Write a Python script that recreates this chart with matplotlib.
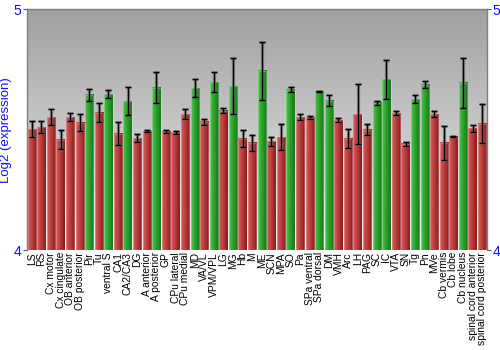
import numpy as np
import matplotlib
matplotlib.use("Agg")
import matplotlib.pyplot as plt
from matplotlib.colors import LinearSegmentedColormap

plt.rcParams['font.family'] = ['Liberation Sans', 'DejaVu Sans']

regions = ["LS", "RS", "Cx motor", "Cx cingulate", "OB anterior", "OB posterior",
           "Pir", "Tu", "ventral S", "CA1", "CA2/CA3", "DG", "A anterior",
           "A posterior", "GP", "CPu lateral", "CPu medial", "MD", "VA/VL",
           "VPM/VPL", "LG", "MG", "Hb", "M", "ME", "SCN", "MPA", "SO", "Pa",
           "SPa ventral", "SPa dorsal", "DM", "VMH", "Arc", "LH", "PAG", "SC",
           "IC", "VTA", "SN", "Tg", "Pn", "MVe", "Cb vermis", "Cb lobe",
           "Cb nucleus", "spinal cord anterior", "spinal cord posterior"]

log2_expr = [4.501, 4.510, 4.551, 4.458, 4.551, 4.529, 4.645, 4.570, 4.648,
             4.483, 4.618, 4.464, 4.494, 4.674, 4.492, 4.490, 4.565, 4.673,
             4.533, 4.697, 4.579, 4.681, 4.462, 4.446, 4.744, 4.452, 4.469,
             4.666, 4.551, 4.551, 4.659, 4.621, 4.539, 4.462, 4.565, 4.500,
             4.612, 4.709, 4.569, 4.442, 4.626, 4.687, 4.565, 4.446, 4.471,
             4.694, 4.505, 4.525]

sem = [0.033, 0.025, 0.033, 0.040, 0.017, 0.035, 0.025, 0.039, 0.016, 0.048,
       0.058, 0.017, 0.004, 0.065, 0.006, 0.006, 0.021, 0.039, 0.012, 0.041,
       0.010, 0.118, 0.035, 0.033, 0.122, 0.019, 0.055, 0.010, 0.012, 0.006,
       0.002, 0.023, 0.008, 0.040, 0.124, 0.023, 0.008, 0.080, 0.010, 0.008,
       0.016, 0.015, 0.012, 0.071, 0.002, 0.103, 0.015, 0.082]

# 1 = highlighted (green), 0 = other (red)
highlight = [0, 0, 0, 0, 0, 0, 1, 0, 1, 0, 1, 0, 0, 1, 0, 0, 0, 1, 0, 1, 0, 1,
             0, 0, 1, 0, 0, 1, 0, 0, 1, 1, 0, 0, 0, 0, 1, 1, 0, 0, 1, 1, 0, 0,
             0, 1, 0, 0]

red_cmap = LinearSegmentedColormap.from_list(
    "redbar", ["#d45858", "#c64646", "#aa3030", "#801c1c"])
green_cmap = LinearSegmentedColormap.from_list(
    "greenbar", ["#52c252", "#34aa34", "#239223", "#16721a"])

fig = plt.figure(figsize=(5.0, 3.5), dpi=100)
ax = fig.add_axes([0.054, 0.2857, 0.920, 0.6877])

ymin, ymax = 4.0, 5.0
n = len(regions)
x = np.arange(n)

# vertical background gradient for the plot area
bg = LinearSegmentedColormap.from_list("bg", ["#f4f4f4", "#c8c8c8", "#a0a0a0"])
grad = np.linspace(0, 1, 256).reshape(-1, 1)
ax.imshow(grad, cmap=bg, aspect="auto", extent=(-0.5, n - 0.5, ymax, ymin),
          origin="upper", zorder=0, interpolation="bicubic")

bars = ax.bar(x, np.array(log2_expr) - ymin, bottom=ymin, width=0.87,
              color="none", edgecolor=(1, 1, 1, 0.25), linewidth=0.8, zorder=2)

hgrad = np.linspace(0, 1, 64).reshape(1, -1)
for patch, hl in zip(bars.patches, highlight):
    x0, y0 = patch.get_x(), patch.get_y()
    w, h = patch.get_width(), patch.get_height()
    ax.imshow(hgrad, cmap=green_cmap if hl else red_cmap, aspect="auto",
              extent=(x0, x0 + w, y0, y0 + h), zorder=1.5,
              interpolation="bilinear")

# error bars with a soft grey halo
ax.errorbar(x, log2_expr, yerr=sem, fmt="none", ecolor=(0.45, 0.45, 0.45, 0.6),
            elinewidth=2.4, capsize=2.4, capthick=2.2, zorder=3)
ax.errorbar(x, log2_expr, yerr=sem, fmt="none", ecolor="black",
            elinewidth=1.0, capsize=2.2, capthick=1.0, zorder=4)

ax.set_xlim(-0.5, n - 0.5)
ax.set_ylim(ymin, ymax)

ax.set_xticks(x)
ax.set_xticklabels(regions, rotation=90, fontsize=7.4, color="black")
ax.tick_params(axis="x", length=0, pad=1.5)

ax.set_yticks([4, 5])
ax.set_yticklabels(["4", "5"])
ax.tick_params(axis="y", which="both", left=True, right=True,
               labelleft=True, labelright=True, labelsize=10,
               labelcolor="#1010ff", color="#555555", length=3, width=0.8,
               pad=1)

ax.set_ylabel("Log2 (expression)", color="#1010ff", fontsize=9.5, labelpad=1)

for side in ["top", "left", "right", "bottom"]:
    ax.spines[side].set_color("#808080")
    ax.spines[side].set_linewidth(1.0)
ax.spines["bottom"].set_visible(False)

fig.savefig("out.png", dpi=100, facecolor="white")
